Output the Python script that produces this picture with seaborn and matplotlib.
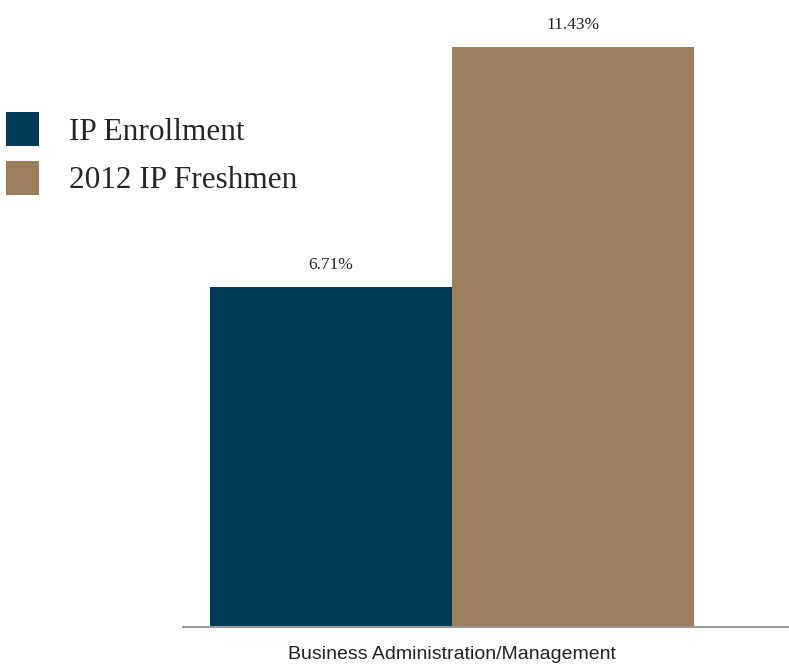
import pandas as pd
import matplotlib.pyplot as plt
import seaborn as sns

categories = ["Business Administration/Management"]
series = ["IP Enrollment", "2012 IP Freshmen"]
values = [6.71, 11.43]
colors = ["#003A54", "#9C7E5C"]

data = pd.DataFrame({
    "category": categories * len(series),
    "series": series,
    "value": values,
})

sns.set_theme(style="white")

fig = plt.figure(figsize=(7.89, 6.65), dpi=100)
ax = fig.add_axes([183 / 789, 38 / 665, 606 / 789, 627 / 665])

sns.barplot(data=data, x="category", y="value", hue="series",
            palette=colors, width=0.8, saturation=1, linewidth=0, ax=ax)

for container in ax.containers:
    ax.bar_label(container, labels=["{:.2f}%".format(v) for v in container.datavalues],
                 padding=10, fontsize=12.5, family="Liberation Serif", color="#222222")

ax.set_xlim(-0.445, 0.557)
ax.set_ylim(0, 12.36)
ax.set_xlabel("")
ax.set_ylabel("")
ax.set_yticks([])
ax.tick_params(axis="x", length=0, pad=14, labelsize=14, labelcolor="#222222")
for lab in ax.get_xticklabels():
    lab.set_family("Liberation Sans")

for side in ["top", "left", "right"]:
    ax.spines[side].set_visible(False)
ax.spines["bottom"].set_color("#9a9a9a")
ax.spines["bottom"].set_linewidth(1.5)

ax.legend(loc="upper left", bbox_to_anchor=(0.0, 1 - 106 / 665),
          bbox_transform=fig.transFigure, frameon=False,
          prop={"family": "Liberation Serif", "size": 22.5},
          handlelength=1.06, handleheight=1.3, labelspacing=0.45,
          handletextpad=0.95, borderaxespad=0, borderpad=0.2)

fig.savefig("out.png", dpi=100)
